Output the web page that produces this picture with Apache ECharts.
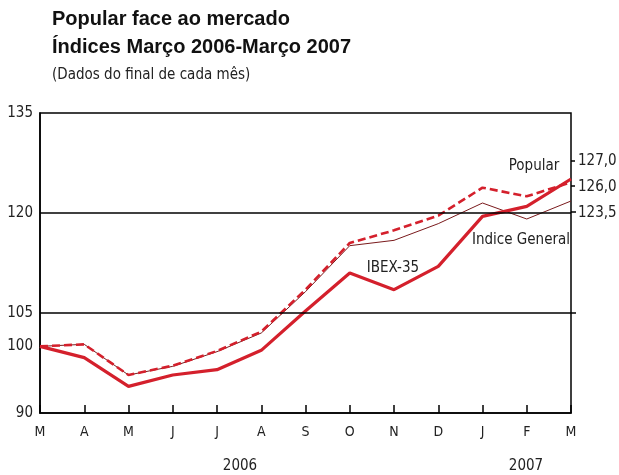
<!DOCTYPE html>
<html>
<head>
<meta charset="utf-8">
<script src="https://cdn.jsdelivr.net/npm/echarts@6/dist/echarts.min.js"></script>
<style>
html,body{margin:0;padding:0;background:#fff;}
#c{width:619px;height:475px;}
</style>
</head>
<body>
<div id="c"></div>
<script>
var months = ['M','A','M','J','J','A','S','O','N','D','J','F','M'];
var ibex35 = [100, 98.3, 94.0, 95.7, 96.5, 99.4, 105.3, 111.0, 108.5, 112.0, 119.5, 121.0, 125.1];
var popular = [100, 100.3, 95.7, 97.1, 99.3, 102.2, 108.5, 115.5, 117.4, 119.6, 123.8, 122.5, 124.6];
var indiceGeneral = [100, 100.3, 95.7, 97.0, 99.2, 102.0, 108.2, 115.1, 115.9, 118.4, 121.5, 119.1, 121.8];
var yTickLabels = [90, 100, 105, 120, 135];
var refLines = [105, 120];
var endValues = ['127,0', '126,0', '123,5'];
var years = ['2006', '2007'];

var NARROW = "'Liberation Sans Narrow','DejaVu Sans Condensed','Arial Narrow',sans-serif";
var RED = '#d4202c';

var chart = echarts.init(document.getElementById('c'), null, {renderer: 'canvas'});
chart.setOption({
  animation: false,
  backgroundColor: '#fff',
  grid: {left: 40, right: 48, top: 113, bottom: 62, show: true, borderColor: '#000', borderWidth: 1.5, backgroundColor: 'transparent'},
  xAxis: {
    type: 'category', data: months, boundaryGap: false,
    axisLine: {lineStyle: {color: '#000', width: 1.5}},
    axisTick: {inside: true, length: 8, lineStyle: {color: '#000', width: 1.5}},
    axisLabel: {color: '#222', fontSize: 14, fontFamily: NARROW, margin: 12},
    splitLine: {show: false}
  },
  yAxis: {
    type: 'value', min: 90, max: 135, interval: 5,
    axisLine: {show: true, lineStyle: {color: '#000', width: 1.5}},
    axisTick: {show: false},
    splitLine: {show: false},
    axisLabel: {
      color: '#222', fontSize: 15, fontFamily: NARROW, margin: 7,
      formatter: function (v) { return yTickLabels.indexOf(v) >= 0 ? String(v) : ''; }
    }
  },
  series: [
    {
      name: 'Indice General', type: 'line', data: indiceGeneral, symbol: 'none', z: 2,
      lineStyle: {color: '#7a1a1c', width: 1},
      markLine: {
        silent: true, symbol: 'none', label: {show: false},
        lineStyle: {color: '#000', width: 1.5, type: 'solid'},
        data: refLines.map(function (v) { return {yAxis: v}; })
      }
    },
    {
      name: 'Popular', type: 'line', data: popular, symbol: 'none', z: 3,
      lineStyle: {color: RED, width: 2.6, type: [8, 4]}
    },
    {
      name: 'IBEX-35', type: 'line', data: ibex35, symbol: 'none', z: 4,
      lineStyle: {color: RED, width: 3.2}
    }
  ],
  graphic: [
    {type: 'text', left: 52, top: 9, style: {text: 'Popular face ao mercado', font: "bold 20px 'Liberation Sans', Arial, sans-serif", fill: '#111'}},
    {type: 'text', left: 52, top: 37, style: {text: 'Índices Março 2006-Março 2007', font: "bold 20px 'Liberation Sans', Arial, sans-serif", fill: '#111'}},
    {type: 'text', left: 52, top: 68, style: {text: '(Dados do final de cada mês)', font: "15px " + NARROW, fill: '#222'}},
    {type: 'text', x: 393, y: 268, style: {text: 'IBEX-35', font: "15px " + NARROW, fill: '#222', align: 'center', verticalAlign: 'middle'}},
    {type: 'text', x: 534, y: 166, style: {text: 'Popular', font: "15px " + NARROW, fill: '#222', align: 'center', verticalAlign: 'middle'}},
    {type: 'text', x: 521, y: 240, style: {text: 'Indice General', font: "15px " + NARROW, fill: '#222', align: 'center', verticalAlign: 'middle'}},
    {type: 'text', x: 578, y: 161, style: {text: endValues[0], font: "15px " + NARROW, fill: '#222', align: 'left', verticalAlign: 'middle'}},
    {type: 'text', x: 578, y: 187, style: {text: endValues[1], font: "15px " + NARROW, fill: '#222', align: 'left', verticalAlign: 'middle'}},
    {type: 'text', x: 578, y: 213, style: {text: endValues[2], font: "15px " + NARROW, fill: '#222', align: 'left', verticalAlign: 'middle'}},
    {type: 'line', shape: {x1: 571, y1: 161, x2: 575, y2: 161}, style: {stroke: '#000', lineWidth: 1.5}},
    {type: 'line', shape: {x1: 571, y1: 186, x2: 575, y2: 186}, style: {stroke: '#000', lineWidth: 1.5}},
    {type: 'line', shape: {x1: 571, y1: 212, x2: 576, y2: 212}, style: {stroke: '#000', lineWidth: 1.5}},
    {type: 'line', shape: {x1: 571, y1: 313, x2: 576, y2: 313}, style: {stroke: '#000', lineWidth: 1.5}},
    {type: 'text', x: 240, y: 466, style: {text: years[0], font: "15px " + NARROW, fill: '#222', align: 'center', verticalAlign: 'middle'}},
    {type: 'text', x: 526, y: 466, style: {text: years[1], font: "15px " + NARROW, fill: '#222', align: 'center', verticalAlign: 'middle'}}
  ]
});
</script>
</body>
</html>
